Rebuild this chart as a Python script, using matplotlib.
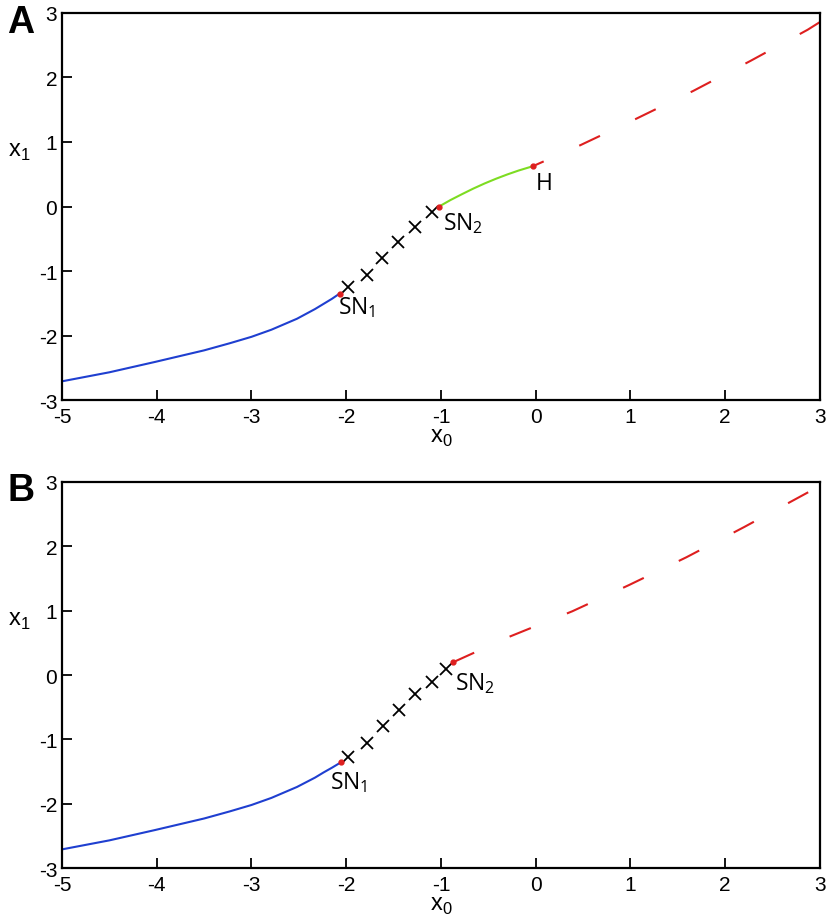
#!/usr/bin/env python3
"""Bifurcation diagram of x1 against x0, two panels (A: with Hopf point, B: without)."""

import matplotlib

matplotlib.use("Agg")
import matplotlib.pyplot as plt

plt.rcParams["font.family"] = ["Liberation Sans", "DejaVu Sans"]
plt.rcParams["mathtext.fontset"] = "custom"
plt.rcParams["mathtext.rm"] = "Open Sans"
plt.rcParams["mathtext.sf"] = "Liberation Sans"
plt.rcParams["lines.scale_dashes"] = False

# ---- panel A ----
a_stable_x = [-5.0, -4.5, -4.02, -3.5, -3.23, -3.0, -2.79, -2.52, -2.33, -2.24, -2.15, -2.07]
a_stable_y = [-2.71, -2.57, -2.41, -2.23, -2.12, -2.02, -1.91, -1.74, -1.59, -1.51, -1.43, -1.35]
a_unstable_x = [-1.98, -1.78, -1.62, -1.455, -1.27, -1.10]
a_unstable_y = [-1.25, -1.06, -0.80, -0.555, -0.31, -0.09]
a_green_x = [-1.02, -0.90, -0.78, -0.66, -0.54, -0.42, -0.30, -0.18, -0.03]
a_green_y = [0.0, 0.10, 0.19, 0.277, 0.357, 0.43, 0.497, 0.558, 0.625]
a_red_x = [-0.03, 0.47, 1.06, 1.66, 2.27, 2.87, 3.0]
a_red_y = [0.625, 0.95, 1.36, 1.79, 2.26, 2.74, 2.86]
a_points_x = [-2.07, -1.02, -0.03]
a_points_y = [-1.35, 0.0, 0.625]

# ---- panel B ----
b_stable_x = [-5.0, -4.5, -4.02, -3.5, -3.23, -3.0, -2.79, -2.52, -2.33, -2.24, -2.15, -2.054]
b_stable_y = [-2.71, -2.57, -2.41, -2.23, -2.12, -2.02, -1.91, -1.74, -1.595, -1.515, -1.44, -1.355]
b_unstable_x = [-1.98, -1.78, -1.61, -1.44, -1.27, -1.10, -0.945]
b_unstable_y = [-1.27, -1.05, -0.80, -0.54, -0.30, -0.11, 0.10]
b_red_x = [-0.87, -0.27, 0.385, 0.987, 1.59, 2.20, 2.80, 3.0]
b_red_y = [0.20, 0.60, 0.99, 1.40, 1.83, 2.30, 2.78, 2.94]
b_points_x = [-2.054, -0.87]
b_points_y = [-1.355, 0.20]

x_ticks = [-5, -4, -3, -2, -1, 0, 1, 2, 3]
y_ticks = [-3, -2, -1, 0, 1, 2, 3]

BLUE = "#1f3fd0"
GREEN = "#7ddc22"
RED = "#de1f1f"
DASH = (16.5, 28.0)


def style_axes(ax):
    ax.set_xlim(-5, 3)
    ax.set_ylim(-3, 3)
    ax.set_xticks(x_ticks)
    ax.set_yticks(y_ticks)
    ax.set_xticklabels([str(t) for t in x_ticks])
    ax.set_yticklabels([str(t) for t in y_ticks])
    ax.tick_params(direction="in", length=7, width=1.3, labelsize=15,
                   top=False, right=False)
    ax.tick_params(axis="x", pad=5)
    ax.tick_params(axis="y", pad=3.5)
    for spine in ax.spines.values():
        spine.set_linewidth(1.6)
    ax.set_xlabel(r"$\mathsf{x}_\mathsf{0}$", fontsize=17, labelpad=0)
    ax.text(-0.056, 0.643, r"$\mathsf{x}_\mathsf{1}$", transform=ax.transAxes,
            fontsize=17, ha="center", va="center")


fig = plt.figure(figsize=(8.29, 9.20), dpi=100)
ax_a = fig.add_axes([0.0748, 0.5641, 0.9143, 0.4207])
ax_b = fig.add_axes([0.0748, 0.0554, 0.9143, 0.4196])

# panel A
ax_a.plot(a_stable_x, a_stable_y, color=BLUE, lw=1.5)
ax_a.plot(a_green_x, a_green_y, color=GREEN, lw=1.5)
ax_a.plot(a_red_x, a_red_y, color=RED, lw=1.5, linestyle=(8.0, DASH))
ax_a.plot(a_unstable_x, a_unstable_y, ls="none", marker="x", ms=8.5,
          mew=1.3, color="black")
ax_a.plot(a_points_x, a_points_y, ls="none", marker="o", ms=3.5,
          color=RED, zorder=5)
ax_a.text(-2.09, -1.65, r"$\mathrm{SN}_\mathrm{1}$", fontsize=16.5)
ax_a.text(-0.977, -0.35, r"$\mathrm{SN}_\mathrm{2}$", fontsize=16.5)
ax_a.text(-0.005, 0.27, r"$\mathrm{H}$", fontsize=16.5)
style_axes(ax_a)

# panel B
ax_b.plot(b_stable_x, b_stable_y, color=BLUE, lw=1.5)
ax_b.plot(b_red_x, b_red_y, color=RED, lw=1.5, linestyle=(0.0, DASH))
ax_b.plot(b_unstable_x, b_unstable_y, ls="none", marker="x", ms=8.5,
          mew=1.3, color="black")
ax_b.plot(b_points_x, b_points_y, ls="none", marker="o", ms=3.5,
          color=RED, zorder=5)
ax_b.text(-2.17, -1.76, r"$\mathrm{SN}_\mathrm{1}$", fontsize=16.5)
ax_b.text(-0.85, -0.22, r"$\mathrm{SN}_\mathrm{2}$", fontsize=16.5)
style_axes(ax_b)

fig.text(21 / 829, 1 - 23 / 920, "A", fontsize=27, fontweight="bold",
         ha="center", va="center")
fig.text(21 / 829, 1 - 491 / 920, "B", fontsize=27, fontweight="bold",
         ha="center", va="center")

fig.savefig("out.png", dpi=100)
